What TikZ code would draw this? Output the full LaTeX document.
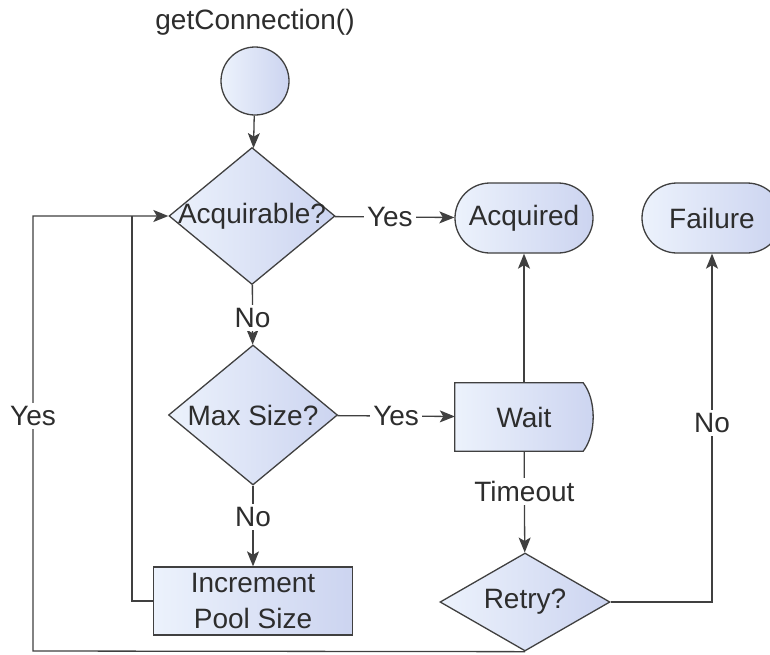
\documentclass[tikz,border=0pt]{standalone}
\usepackage{fontspec}
\setmainfont{Liberation Sans}
\usetikzlibrary{shapes.geometric,shapes.misc,arrows.meta}
\definecolor{lnc}{RGB}{64,64,64}
\definecolor{txc}{RGB}{45,45,45}
\definecolor{fa}{RGB}{236,242,252}
\definecolor{fb}{RGB}{204,212,240}
\newcommand\fsz{\fontsize{28}{36}\selectfont}
\tikzset{
  base/.style={draw=lnc, line width=1.3pt, left color=fa, right color=fb, text=txc, font=\fsz},
  dia/.style={base, diamond, inner sep=0pt},
  term/.style={base, rounded rectangle, inner sep=0pt},
  procbox/.style={base, rectangle, align=center, inner sep=0pt},
  circnode/.style={base, circle, inner sep=0pt},
  conn/.style={draw=lnc, line width=1.3pt},
  arr/.style={conn, -{Stealth[length=15pt,width=12pt,inset=3.5pt]}},
  lbl/.style={fill=white, text=txc, font=\fsz, inner sep=3pt},
  every label/.style={text=txc, font=\fsz},
}
\begin{document}
\begin{tikzpicture}[x=1pt,y=-1pt]
\clip (0,0) rectangle (770,654);
\fill[white] (0,0) rectangle (770,654);
% nodes
\node[text=txc, font=\fsz] (title) at (255,22) {getConnection()};
\node[circnode, minimum size=68pt] (start) at (255,81) {};
\node[dia, minimum width=166pt, minimum height=137pt, label={center:Acquirable?}] (acq) at (252,216) {};
\node[dia, minimum width=169pt, minimum height=140pt, label={center:Max Size?}] (max) at (253,415) {};
\node[procbox, minimum width=199pt, minimum height=68pt] (inc) at (253,601) {Increment\\Pool Size};
\node[term, minimum width=138pt, minimum height=70pt] (acqd) at (524,218) {Acquired};
\node[term, minimum width=140pt, minimum height=70pt] (fail) at (712,218) {Failure};
\node[minimum width=138pt, minimum height=68pt, inner sep=0pt] (wait) at (524,417) {};
\filldraw[base] (wait.north west) -- ([xshift=-10pt]wait.north east)
  .. controls ([xshift=3.3pt,yshift=-17pt]wait.north east) and ([xshift=3.3pt,yshift=17pt]wait.south east) ..
  ([xshift=-10pt]wait.south east) -- (wait.south west) -- cycle;
\node[text=txc, font=\fsz] at (wait.center) {Wait};
\node[dia, minimum width=170pt, minimum height=98pt, label={center:Retry?}] (retry) at (525,602) {};
\coordinate (lb) at (33,651);
\coordinate (lt) at (33,216);
\coordinate (jn) at (132,216);
% connectors
\draw[arr] (start) -- (acq);
\draw[arr] (acq) -- node[lbl, pos=0.46] {Yes} (acqd);
\draw[arr] (acq) -- node[lbl, pos=0.55] {No} (max);
\draw[arr] (max) -- node[lbl, pos=0.5] {Yes} (wait);
\draw[arr] (max) -- node[lbl, pos=0.39] {No} (inc);
\draw[arr] (wait) -- (acqd);
\draw[arr] (wait) -- node[lbl, pos=0.40] {Timeout} (retry);
\draw[arr] (retry.east) -| node[lbl, pos=0.757] {No} (fail.south);
\draw[arr] (retry.south) -- (lb) -- node[lbl, pos=0.54] {Yes} (lt) -- (acq.west);
\draw[conn] (inc.west) -| (jn);
\end{tikzpicture}
\end{document}
